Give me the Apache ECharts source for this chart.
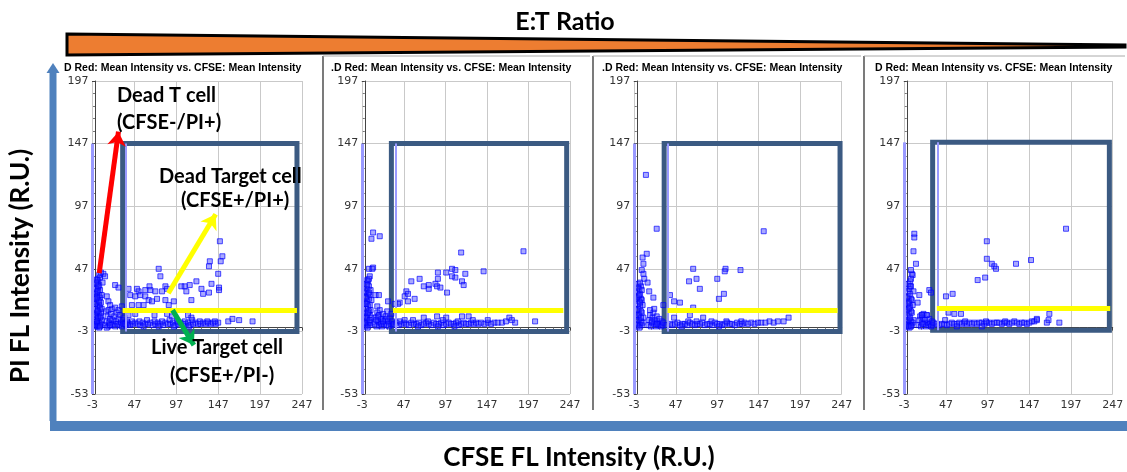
<!DOCTYPE html>
<html><head><meta charset="utf-8">
<script src="https://cdn.jsdelivr.net/npm/echarts@6/dist/echarts.min.js"></script>
<style>html,body{margin:0;padding:0;background:#fff}#c{width:1127px;height:472px}</style>
</head><body><div id="c"></div>
<script>
// ---- axis ticks ----
const xTicks = [-3, 47, 97, 147, 197, 247];
const yTicks = [-53, -3, 47, 97, 147, 197];
const panelTitle = "D Red: Mean Intensity vs. CFSE: Mean Intensity";

// ---- panel 1 (highest E:T) ----
const col1 = [[1,1],[2,3],[3,5],[4,2],[5,4],[1,7],[3,9],[5,11],[2,12],[4,14],[1,15],[3,17],[5,18],[2,20],[4,22],[1,23],[3,25],[5,26],[2,28],[4,30],[3,32],[5,34],[2,35],[4,37],[3,39],[6,40],[5,42],[7,44],[6,8],[6,16],[6,24],[6,30],[7,3],[7,12],[7,20],[8,6],[8,26],[9,36],[1,31],[2,38],[0,2],[0,10],[0,19],[0,27],[3,1],[5,0],[8,15],[10,43],[12,41],[2,5],[4,8],[3,13],[5,21],[2,24],[4,33],[1,36],[6,1],[7,9],[3,29]];
const band1 = [[12,2],[14,5],[15,9],[16,1],[17,4],[18,7],[19,11],[20,2],[21,6],[22,3],[23,9],[24,1],[25,5],[26,12],[27,3],[28,7],[29,2],[30,10],[31,4],[32,1],[33,6],[34,3],[35,8],[37,2],[38,5],[40,3],[13,13],[16,14],[20,15],[14,0],[18,2],
  [36,3],[39,4],[42,2],[45,3],[48,4],[51,3],[54,2],[57,4],[60,3],[63,3],[66,4],[69,2],[72,3],[75,4],[78,3],[81,2],[84,4],[87,3],[90,3],[93,4],[96,2],[99,3],[102,4],[105,3],[108,3],[111,4],[114,2],[117,3],[120,4],[123,3],[126,3],[129,4],[132,3],[135,4],[138,3],[141,4],[144,3],[147,4],[44,5],[53,5],[62,6],[71,5],[80,5],[89,6],[98,5],[107,5],[116,6],[125,5],[134,5],[143,5],[58,1],[76,1],[94,1],[112,1],[159,5],[164,7],[172,6],[188,5]];
const scat1 = [[149,69],[152,57],[150,53],[137,53],[136,49],[76,47],[147,43],[78,41],[121,37],[139,35],[113,34],[107,33],[103,33],[84,33],[86,31],[65,33],[50,31],[24,34],[28,32],[40,31],[52,29],[60,30],[66,30],[72,29],[80,29],[127,31],[129,27],[136,28],[148,32],[148,30],[109,29],[115,22],[42,26],[48,25],[54,26],[60,25],[64,22],[68,21],[74,23],[84,22],[88,18],[94,21],[14,25],[16,21],[18,18],[24,16],[28,14],[32,17],[44,18],[52,18],[58,18],[40,10],[48,11],[71,10],[86,11],[111,10],[115,8],[92,9]];

// ---- panel 2 ----
const col2 = [[1,1],[2,3],[3,6],[4,2],[5,5],[1,9],[3,11],[5,13],[2,15],[4,17],[1,19],[3,21],[5,23],[2,25],[4,27],[1,29],[3,31],[5,33],[2,35],[4,37],[3,38],[6,2],[6,10],[6,18],[6,26],[7,4],[7,14],[7,30],[0,4],[0,12],[0,20],[0,28],[8,8],[8,22],[5,47],[10,48],[9,47],[6,41],[5,39],[3,0],[2,8],[4,12],[2,19],[5,28],[3,34],[1,24],[6,6]];
const band2 = [[12,3],[13,8],[14,1],[15,12],[16,5],[17,2],[17,10],[18,14],[19,4],[20,7],[21,1],[22,11],[23,3],[24,6],[25,9],[26,2],[27,13],[28,5],[29,1],[30,8],[31,3],[32,11],[33,5],[34,2],[14,6],[20,3],[26,7],[16,9],[22,5],
  [35,3],[38,4],[41,2],[44,3],[47,4],[50,3],[53,2],[56,4],[59,3],[62,3],[65,4],[68,2],[71,3],[74,4],[77,3],[80,2],[83,4],[86,3],[89,3],[92,4],[95,2],[98,3],[101,4],[104,3],[107,3],[110,4],[113,2],[116,3],[119,4],[122,3],[125,3],[128,4],[131,3],[134,4],[137,3],[140,4],[144,3],[148,4],[152,3],[156,4],[160,4],[165,4],[170,5],[177,6],[181,4],[205,5],[174,8],[42,5],[58,6],[76,5],[94,6],[112,5],[130,6],[148,6],[64,1],[88,1],[108,1],[48,6],[87,9],[117,9],[125,9],[71,8],[98,8]];
const scat2 = [[10,76],[8,71],[18,73],[116,60],[191,61],[143,45],[105,47],[109,46],[88,44],[98,44],[121,43],[105,41],[109,40],[88,39],[117,37],[119,34],[66,39],[56,37],[85,35],[87,33],[77,34],[77,31],[91,32],[71,33],[99,28],[50,29],[48,25],[52,27],[60,23],[52,21],[42,20],[36,19],[40,19],[15,17],[13,26],[17,26],[28,21]];

// ---- panel 3 ----
const col3 = [[1,1],[2,3],[3,6],[4,2],[5,5],[1,9],[3,11],[5,13],[2,15],[4,17],[1,19],[3,21],[5,23],[2,25],[4,27],[1,29],[3,31],[5,33],[2,35],[6,2],[6,12],[6,22],[7,4],[7,18],[0,6],[0,14],[0,24],[8,8],[3,0],[4,36],[6,30],[2,10],[4,20],[3,26],[5,8],[1,32]];
const band3 = [[14,2],[15,6],[16,10],[17,1],[18,4],[19,8],[20,12],[21,3],[22,6],[23,1],[24,9],[25,4],[26,2],[27,7],[28,3],[29,1],[30,5],[31,2],[32,4],[21,15],[32,18],[16,14],[18,5],[24,3],
  [40,3],[43,2],[46,3],[49,4],[52,2],[55,3],[58,3],[61,2],[64,4],[67,3],[70,2],[73,3],[76,3],[79,4],[82,2],[85,3],[88,3],[91,2],[94,4],[97,3],[100,3],[103,2],[106,3],[109,4],[112,3],[115,3],[118,2],[121,4],[124,3],[127,3],[130,4],[134,3],[138,4],[142,3],[146,4],[150,4],[155,4],[160,5],[165,4],[170,5],[177,5],[183,8],[64,10],[80,8],[45,8],[54,1],[72,5],[90,5],[108,5],[126,5],[62,5],[99,1],[36,2]];
const scat3 = [[11,122],[24,79],[12,59],[7,56],[8,51],[6,46],[8,43],[9,39],[13,36],[153,77],[68,47],[107,47],[106,45],[125,46],[97,39],[72,39],[63,37],[76,31],[105,27],[99,23],[40,26],[45,21],[52,20],[20,24],[15,29],[68,16]];

// ---- panel 4 (lowest E:T) ----
const col4 = [[1,1],[2,3],[3,6],[4,2],[5,5],[1,9],[3,11],[5,13],[2,15],[4,17],[1,19],[3,21],[5,23],[2,25],[4,27],[1,29],[3,31],[5,33],[2,35],[4,37],[6,2],[6,12],[6,22],[7,4],[7,18],[0,6],[0,14],[0,24],[3,0],[5,39],[6,43],[5,46],[7,42],[4,33],[8,29],[2,1],[5,1],[8,6],[3,16],[2,20],[4,8]];
const band4 = [[14,2],[15,6],[16,9],[17,1],[18,4],[19,8],[20,11],[21,3],[22,6],[23,1],[24,10],[25,4],[26,2],[27,7],[28,3],[29,1],[30,5],[31,2],[32,4],[18,10],[19,3],
  [36,3],[39,2],[42,3],[45,3],[48,2],[51,3],[54,4],[57,3],[60,3],[63,4],[66,3],[69,4],[72,3],[75,4],[78,3],[81,4],[84,3],[87,4],[90,4],[93,3],[96,4],[99,4],[102,3],[105,4],[108,4],[111,4],[114,3],[117,4],[120,4],[123,3],[126,4],[129,5],[132,4],[135,3],[138,4],[141,4],[144,3],[147,4],[150,5],[153,5],[156,6],[170,6],[183,4],[156,7],[118,5],[70,5],[95,5],[46,6],[60,1],[90,1],[168,4]];
const scat4 = [[9,75],[9,72],[8,61],[191,79],[96,69],[11,51],[96,55],[149,54],[131,51],[102,51],[105,49],[107,47],[94,40],[85,38],[15,26],[13,20],[27,30],[29,28],[47,25],[55,27],[50,12],[57,11],[65,11],[171,11],[18,10],[24,10]];

// ---- gates (data coords) ----
const boxes = [[[33,147],[241,-3]],[[32,147],[243,-3]],[[33,147],[245,-3]],[[31,148],[243,-2]]];
const yellowLines = [[[33,14],[241,14]],[[34,14],[239,14]],[[37,14],[242,14]],[[36,15.5],[244,15.5]]];
const gateX = [37, 37, 37, 37];
const arrowRed = [[5,43.5],[28,156.5]];
const arrowYellow = [[87.5,27.5],[144,90.5]];
const arrowGreen = [[92.5,14],[118,-14]];

const panels = [col1.concat(band1, scat1), col2.concat(band2, scat2), col3.concat(band3, scat3), col4.concat(band4, scat4)];
const gridLeft = [92.5, 362.3, 634.3, 904.3];
const gridWidth = [209.5, 207.7, 207.4, 208.4];

const chart = echarts.init(document.getElementById('c'), null, {renderer:'canvas'});
const grids = [], xAxes = [], yAxes = [], series = [];
const lav = '#9a9aff';
panels.forEach((pts, i) => {
  grids.push({left: gridLeft[i], top: 81, width: gridWidth[i], height: 313});
  const axisCommon = {
    type: 'value', gridIndex: i, interval: 50,
    axisLine: {show: true, lineStyle: {color: '#444', width: 1}},
    axisTick: {show: true, length: 3, lineStyle: {color: '#444'}},
    minorTick: {show: true, splitNumber: 5, length: 2, lineStyle: {color: '#777'}},
    axisLabel: {color: '#333', fontSize: 11, fontFamily: 'DejaVu Sans', margin: 4},
    splitLine: {show: true, lineStyle: {color: '#c9c9c9', width: 1}},
    minorSplitLine: {show: false}
  };
  xAxes.push(Object.assign({}, axisCommon, {min: xTicks[0], max: xTicks[xTicks.length-1], axisLabel: Object.assign({}, axisCommon.axisLabel, {margin: 6})}));
  yAxes.push(Object.assign({}, axisCommon, {min: yTicks[0], max: yTicks[yTicks.length-1]}));
  const b = boxes[i], yl = yellowLines[i];
  const mlData = [
    // lavender gate lines
    [{coord: [-3, b[0][1]], lineStyle:{color: lav, width: 3}}, {coord: [-3, -53]}],
    [{coord: [gateX[i], b[0][1]], lineStyle:{color: lav, width: 2}}, {coord: [gateX[i], b[1][1]]}],
    // yellow threshold
    [{coord: yl[0], lineStyle:{color: '#ffff00', width: 5}}, {coord: yl[1]}]
  ];
  if (i === 0) {
    mlData.push([{coord: arrowRed[0], lineStyle:{color:'#ff0000', width:5}}, {coord: arrowRed[1], symbol:'arrow', symbolSize:[14,14]}]);
    mlData.push([{coord: arrowYellow[0], lineStyle:{color:'#ffff00', width:5}}, {coord: arrowYellow[1], symbol:'arrow', symbolSize:[14,14]}]);
    mlData.push([{coord: arrowGreen[0], lineStyle:{color:'#00b050', width:5}}, {coord: arrowGreen[1], symbol:'arrow', symbolSize:[14,14]}]);
  }
  series.push({
    type: 'scatter', xAxisIndex: i, yAxisIndex: i, data: pts,
    symbol: 'rect', symbolSize: 5, silent: true, animation: false,
    itemStyle: {color: 'rgba(40,40,255,0.5)', borderColor: 'rgba(0,0,255,0.85)', borderWidth: 1},
    markArea: {
      silent: true,
      itemStyle: {color: 'rgba(0,0,0,0)', borderColor: '#3b5a82', borderWidth: 5},
      data: [[{coord: b[0]}, {coord: b[1]}]]
    },
    markLine: {
      silent: true, symbol: ['none','none'], label: {show: false},
      lineStyle: {type: 'solid'}, emphasis: {disabled: true},
      data: mlData
    }
  });
});

const txt = (text, x, y, font, align, extra) => Object.assign({
  type: 'text', x: x, y: y, z: 100,
  style: {text: text, font: font, fill: '#000', align: align || 'left', verticalAlign: 'middle'}
}, extra || {});

const graphic = [
  // E:T ratio wedge
  {type: 'polygon', z: 50, shape: {points: [[67,34],[1125,45],[1125,47],[67,55]]}, style: {fill: '#ed7d31', stroke: '#000', lineWidth: 3}},
  txt('E:T Ratio', 565, 22, 'bold 25px Lato', 'center'),
  // panel frames
  {type: 'line', z: 50, shape: {x1: 323, y1: 56, x2: 323, y2: 410}, style: {stroke: '#222', lineWidth: 1.2}},
  {type: 'line', z: 50, shape: {x1: 593, y1: 56, x2: 593, y2: 410}, style: {stroke: '#222', lineWidth: 1.2}},
  {type: 'line', z: 50, shape: {x1: 864, y1: 56, x2: 864, y2: 410}, style: {stroke: '#222', lineWidth: 1.2}},
  {type: 'line', z: 50, shape: {x1: 323, y1: 56, x2: 590, y2: 56}, style: {stroke: '#aaa', lineWidth: 1}},
  {type: 'line', z: 50, shape: {x1: 593, y1: 56, x2: 861, y2: 56}, style: {stroke: '#aaa', lineWidth: 1}},
  {type: 'line', z: 50, shape: {x1: 864, y1: 56, x2: 1125, y2: 56}, style: {stroke: '#aaa', lineWidth: 1}},
  // panel titles
  txt(panelTitle, 64, 68, 'bold 10.5px "Liberation Sans"', 'left'),
  txt('.' + panelTitle, 331, 68, 'bold 10.5px "Liberation Sans"', 'left'),
  txt('.' + panelTitle, 602, 68, 'bold 10.5px "Liberation Sans"', 'left'),
  txt(panelTitle, 875, 68, 'bold 10.5px "Liberation Sans"', 'left'),
  // blue axes arrows
  {type: 'rect', z: 60, shape: {x: 49.5, y: 70, width: 7, height: 351}, style: {fill: '#4f81bd'}},
  {type: 'polygon', z: 60, shape: {points: [[46.5,73],[53,63],[59.5,73]]}, style: {fill: '#4f81bd'}},
  {type: 'rect', z: 60, shape: {x: 50, y: 421, width: 1077, height: 10}, style: {fill: '#4f81bd'}},
  // axis titles
  txt('PI FL Intensity (R.U.)', 21, 266, 'bold 26px Lato', 'center', {rotation: Math.PI/2}),
  txt('CFSE FL Intensity (R.U.)', 579, 458, 'bold 26px Lato', 'center'),
  // annotations
  txt('Dead T cell', 117, 96, 'bold 20px Lato', 'left'),
  txt('(CFSE-/PI+)', 117, 123, 'bold 20px Lato', 'left'),
  txt('Dead Target cell', 159, 177, 'bold 20px Lato', 'left'),
  txt('(CFSE+/PI+)', 181, 201, 'bold 20px Lato', 'left'),
  txt('Live Target cell', 151, 348, 'bold 20px Lato', 'left'),
  txt('(CFSE+/PI-)', 170, 376, 'bold 20px Lato', 'left')
];

chart.setOption({
  animation: false,
  grid: grids, xAxis: xAxes, yAxis: yAxes, series: series, graphic: graphic
});
</script></body></html>
